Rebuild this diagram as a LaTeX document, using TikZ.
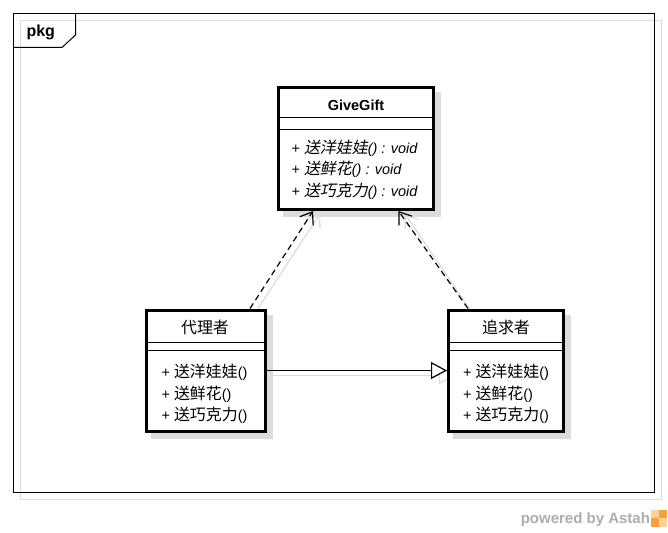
\documentclass[tikz,border=0pt]{standalone}
\usepackage{fontspec}
\setmainfont{Liberation Sans}
\newfontfamily\cjk[Scale=1.1]{Noto Sans CJK SC}
\newfontfamily\cjkit[Scale=1.1,FakeSlant=0.2]{Noto Sans CJK SC}
\usetikzlibrary{arrows.meta,calc}
\definecolor{shadowgray}{HTML}{DCDCDC}
\definecolor{brandgray}{HTML}{ADADAD}
\definecolor{logoorange}{HTML}{F5A23C}
\definecolor{logolight}{HTML}{FAD29C}
\begin{document}
\begin{tikzpicture}[x=1pt,y=-1pt,
  classbox/.style={draw=black, line width=3pt, fill=white, rectangle, inner sep=0pt},
  boxshadow/.style={fill=shadowgray, draw=none},
  sepline/.style={line width=1pt},
  txt/.style={inner sep=0pt, outer sep=0pt, font=\fontsize{14.5}{17}\selectfont},
  boldtxt/.style={txt, font=\fontsize{14.5}{17}\selectfont\bfseries},
  depline/.style={line width=1.2pt, dash pattern=on 6pt off 4pt, -{Straight Barb[length=11pt,width=16pt,line width=1.2pt]}},
  genline/.style={line width=1.2pt, -{Triangle[length=16pt,width=17pt,fill=white,line width=1.2pt]}},
  shadowdep/.style={draw=shadowgray, line width=1.2pt, -{Straight Barb[length=11pt,width=16pt,line width=1.2pt]}},
  shadowgen/.style={draw=shadowgray, line width=1.2pt, -{Triangle[length=16pt,width=17pt,fill=white,line width=1.2pt]}}
]
\useasboundingbox (0,0) rectangle (668,532);
\fill[white] (0,0) rectangle (668,532);

% frame
\draw[shadowgray, line width=1pt] (20.5,20.5) rectangle (661.5,499.5);
\draw[black, line width=1pt] (13.5,13.5) rectangle (654.5,492.5);
\draw[black, line width=1pt] (13.5,47.5) -- (62,47.5) -- (75.5,35) -- (75.5,13.5);
\node[boldtxt, font=\fontsize{16}{18}\selectfont\bfseries, anchor=base west] (pkg) at (26.5,37) {pkg};

% class boxes (positions only, drawn later)
\path (356,148.5) node[classbox, draw=none, fill=none, minimum width=155pt, minimum height=122pt] (gift) {};
\path (206,370.5) node[classbox, draw=none, fill=none, minimum width=119pt, minimum height=121pt] (proxy) {};
\path (506,370.5) node[classbox, draw=none, fill=none, minimum width=115pt, minimum height=121pt] (seeker) {};

% connector end points
\coordinate (d1s) at ($(proxy.north)+(44,0)$);
\coordinate (d1e) at ($(gift.south west)+(36,0)$);
\coordinate (d2s) at ($(seeker.north)+(-38,0)$);
\coordinate (d2e) at ($(gift.south east)+(-36.5,0)$);
\coordinate (s1s) at ($(proxy.north)+(48,6)$);
\coordinate (s1e) at ($(gift.south west)+(43,3)$);
\coordinate (s2s) at ($(seeker.north)+(-32,7)$);
\coordinate (s2e) at ($(gift.south east)+(-30,3)$);
\coordinate (sgs) at ($(proxy.east)+(0,5)$);
\coordinate (sge) at ($(seeker.west)+(8,5)$);

% connector shadows
\draw[shadowdep] (s1s) -- (s1e);
\draw[shadowdep] (s2s) -- (s2e);
\draw[shadowgen] (sgs) -- (sge);

% box shadows
\fill[boxshadow] ($(gift.north west)+(6,6)$) rectangle ($(gift.south east)+(6,6)$);
\fill[boxshadow] ($(proxy.north west)+(6,6)$) rectangle ($(proxy.south east)+(6,6)$);
\fill[boxshadow] ($(seeker.north west)+(6,6)$) rectangle ($(seeker.south east)+(6,6)$);

% boxes
\node[classbox, minimum width=155pt, minimum height=122pt] (giftbox) at (gift) {};
\node[classbox, minimum width=119pt, minimum height=121pt] (proxybox) at (proxy) {};
\node[classbox, minimum width=115pt, minimum height=121pt] (seekerbox) at (seeker) {};

% compartments
\draw[sepline] (gift.west |- 0,117) -- (gift.east |- 0,117);
\draw[sepline] (gift.west |- 0,129) -- (gift.east |- 0,129);
\draw[sepline] (proxy.west |- 0,342) -- (proxy.east |- 0,342);
\draw[sepline] (proxy.west |- 0,350) -- (proxy.east |- 0,350);
\draw[sepline] (seeker.west |- 0,342) -- (seeker.east |- 0,342);
\draw[sepline] (seeker.west |- 0,350) -- (seeker.east |- 0,350);

% texts
\node[boldtxt, anchor=base] (giftname) at (356,110.5) {GiveGift};
\node[txt, anchor=base west] (gm1) at (291.5,153) {+ {\cjkit 送洋娃娃}\textit{() : void}};
\node[txt, anchor=base west] (gm2) at (291.5,174.5) {+ {\cjkit 送鲜花}\textit{() : void}};
\node[txt, anchor=base west] (gm3) at (291.5,196) {+ {\cjkit 送巧克力}\textit{() : void}};

\node[txt, anchor=base] (proxyname) at (205,333) {\cjk 代理者};
\node[txt, anchor=base west] (pm1) at (161.5,377.5) {+ {\cjk 送洋娃娃}()};
\node[txt, anchor=base west] (pm2) at (161.5,399) {+ {\cjk 送鲜花}()};
\node[txt, anchor=base west] (pm3) at (161.5,420.5) {+ {\cjk 送巧克力}()};

\node[txt, anchor=base] (seekername) at (506,333) {\cjk 追求者};
\node[txt, anchor=base west] (sm1) at (463,377.5) {+ {\cjk 送洋娃娃}()};
\node[txt, anchor=base west] (sm2) at (463,399) {+ {\cjk 送鲜花}()};
\node[txt, anchor=base west] (sm3) at (463,420.5) {+ {\cjk 送巧克力}()};

% connectors
\draw[depline] (d1s) -- (d1e);
\draw[depline] (d2s) -- (d2e);
\draw[genline] (proxy.east) -- (seeker.west);

% footer
\node[boldtxt, font=\fontsize{15}{17}\selectfont\bfseries, text=brandgray, anchor=base east] (powered) at (650,523.5) {powered by Astah};
\fill[logoorange] (651,510) rectangle (667,527);
\fill[logolight] (651,510) rectangle (659,518);
\fill[logolight] (659,518) rectangle (667,527);
\end{tikzpicture}
\end{document}
